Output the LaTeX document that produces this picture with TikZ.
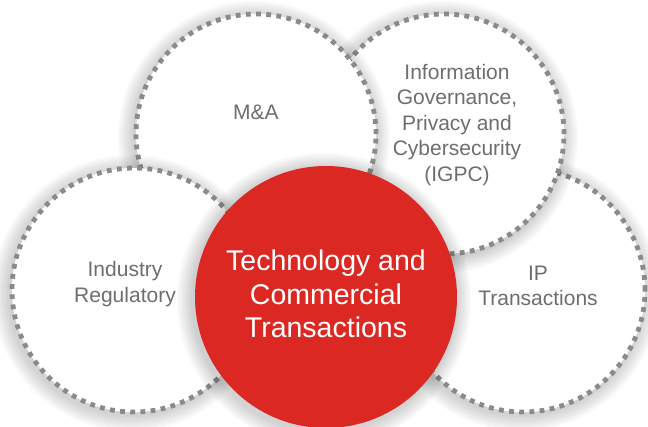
\documentclass[tikz,border=0pt]{standalone}
\usepackage{fontspec}
\setmainfont{Liberation Sans}
\usetikzlibrary{positioning}
\definecolor{tcred}{HTML}{DC2823}
\definecolor{dotgray}{HTML}{8A8A8A}
\definecolor{labelgray}{HTML}{6E6E6E}
% soft grey halo under a circle: centre, radius
\newcommand\halo[2]{%
  \foreach \g in {2,4,...,16} {\fill[black, opacity=0.022] #1 circle[radius=#2+\g pt];}}

\begin{document}
\begin{tikzpicture}[x=1pt, y=-1pt,
    every node/.style = {align=center, inner sep=0pt},
    area/.style = {circle, fill=white, draw=dotgray, line width=4.8pt,
      dash pattern=on 4.8pt off 5.4pt, minimum size=#1},
    core/.style = {circle, fill=tcred, minimum size=262pt},
    topic/.style = {text=labelgray, font=\fontsize{21}{25.5}\selectfont},
    coretext/.style = {text=white, font=\fontsize{28.5}{33.5}\selectfont}]
    \useasboundingbox (0,0) rectangle (648,426);
    \halo{(521,293)}{122pt}
    \node[area=244pt] (ip) at (523,290) {};
    \halo{(442,137)}{120pt}
    \node[area=240pt] (igpc) at (444,134) {};
    \halo{(254,137)}{120pt}
    \node[area=240pt] (ma) at (256,134) {};
    \halo{(131,293)}{122pt}
    \node[area=244pt] (ind) at (134,290) {};
    \halo{(324,300)}{131pt}
    \node[core] (tc) at (326,297) {};
    % labels
    \node[topic] (malabel) at ([yshift=21.5pt]ma) {M\&A};
    \node[topic] (igpclabel) at ([xshift=13pt, yshift=9pt]igpc)
      {Information\\Governance,\\Privacy and\\Cybersecurity\\(IGPC)};
    \node[topic] (indlabel) at ([xshift=-9pt, yshift=6pt]ind) {Industry\\Regulatory};
    \node[topic] (iplabel) at ([xshift=15pt, yshift=4pt]ip) {IP\\Transactions};
    \node[coretext] (tclabel) at ([yshift=3pt]tc)
      {Technology and\\Commercial\\Transactions};
\end{tikzpicture}
\end{document}
